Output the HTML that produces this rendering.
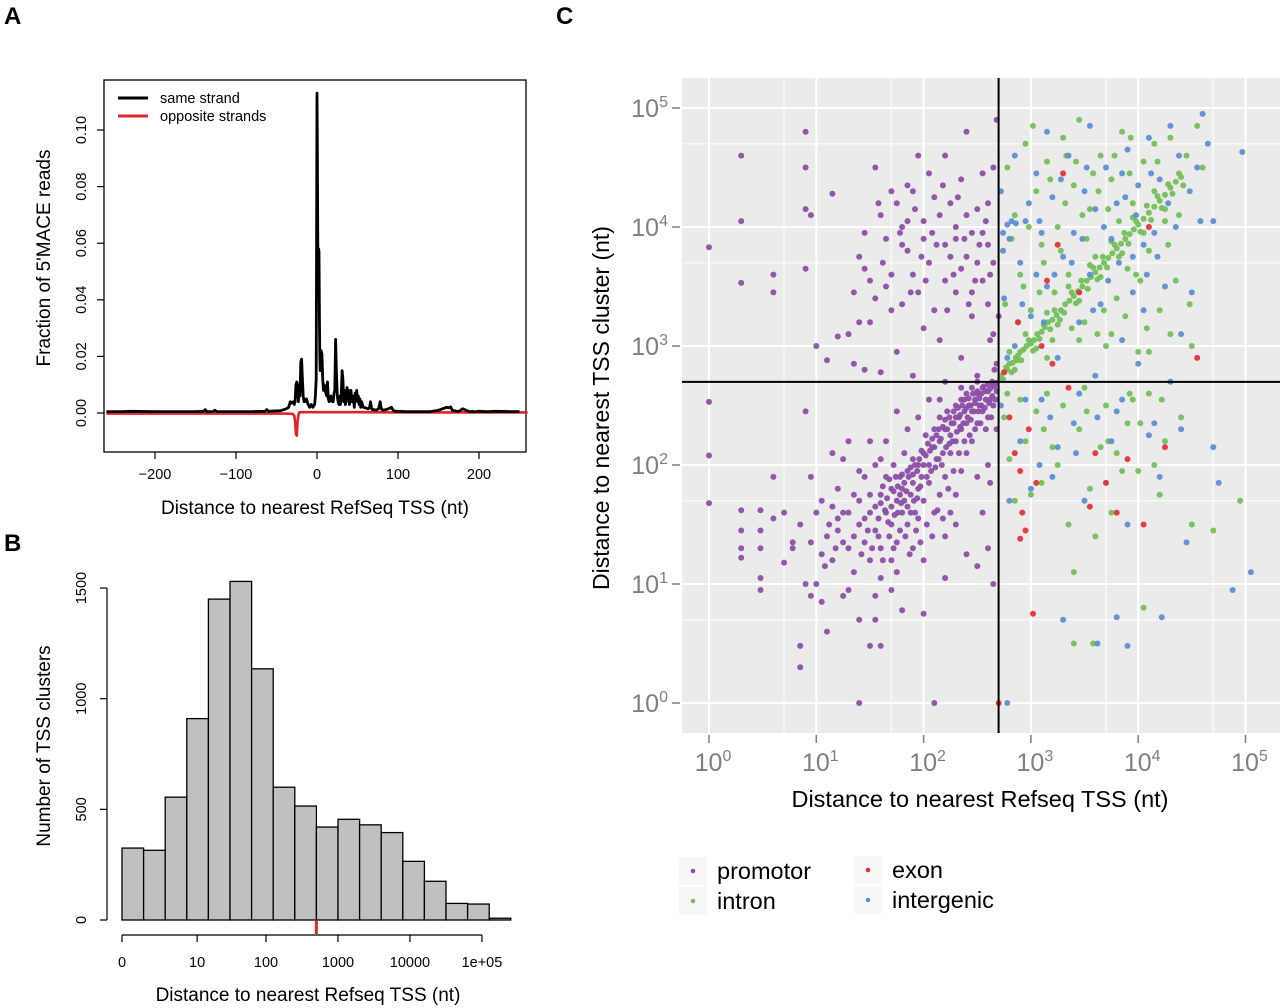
<!DOCTYPE html>
<html><head><meta charset="utf-8"><style>
html,body{margin:0;padding:0;background:#fff;}
svg{display:block;font-family:"Liberation Sans",Arial,sans-serif;}
</style></head><body>
<svg id="fig" width="1280" height="1008" viewBox="0 0 1280 1008">
<text x="4" y="24" font-size="24" font-weight="bold">A</text>
<text x="4" y="551" font-size="24" font-weight="bold">B</text>
<text x="556" y="24" font-size="24" font-weight="bold">C</text>
<g id="pa"></g>
<g id="pb"></g>
<g id="pc"></g>
</svg>
<script>
// ---------- Panel A data ----------
const aTicksX = [-200,-100,0,100,200];
const aTicksY = [0,0.02,0.04,0.06,0.08,0.10];
const aTickLabelsY = ["0.00","0.02","0.04","0.06","0.08","0.10"];
const sameX = [-260,-240,-230,-200,-180,-150,-140,-138,-136,-128,-126,-124,-100,-80,-64,-62,-60,-45,-38,-35,-33,-31,-29,-28,-27,-26,-25,-24,-23,-22,-21,-20,-19,-18,-17,-16,-15,-13,-11,-9,-7,-5,-3,-2,-1,0,0.5,1,1.5,2,2.5,3,3.5,4,5,6,7,8,9,10,11,12,13,14,15,16,17,18,19,20,21,22,23,24,25,26,27,28,29,30,31,32,33,34,35,36,37,38,39,40,41,42,43,44,45,46,47,48,49,50,51,52,53,54,55,57,60,63,65,66,67,68,70,73,76,78,79,80,82,85,88,92,94,95,97,100,110,120,140,150,160,163,165,167,170,172,175,180,188,190,192,194,200,210,212,220,240,250,260];
const sameY = [0.0005,0.0005,0.0006,0.0005,0.0005,0.0005,0.0006,0.0012,0.0005,0.0005,0.001,0.0005,0.0005,0.0005,0.0006,0.0012,0.0006,0.0008,0.0015,0.002,0.004,0.0035,0.004,0.003,0.004,0.01,0.011,0.008,0.004,0.01,0.006,0.018,0.019,0.012,0.006,0.004,0.004,0.005,0.003,0.002,0.003,0.002,0.003,0.006,0.012,0.113,0.09,0.06,0.04,0.058,0.057,0.035,0.02,0.015,0.022,0.021,0.012,0.008,0.01,0.008,0.007,0.006,0.011,0.005,0.004,0.0045,0.006,0.005,0.004,0.004,0.007,0.008,0.026,0.015,0.006,0.004,0.003,0.006,0.003,0.007,0.015,0.012,0.004,0.008,0.003,0.004,0.009,0.005,0.008,0.003,0.006,0.008,0.004,0.006,0.005,0.002,0.007,0.006,0.008,0.004,0.006,0.003,0.005,0.002,0.004,0.002,0.0018,0.0015,0.002,0.004,0.002,0.0012,0.0012,0.001,0.0015,0.004,0.002,0.0012,0.001,0.0012,0.0015,0.002,0.001,0.0008,0.0006,0.0006,0.0005,0.0005,0.0005,0.001,0.002,0.0018,0.0022,0.001,0.0008,0.0006,0.0006,0.0015,0.0005,0.0005,0.0006,0.0004,0.0006,0.0005,0.0005,0.0006,0.0005,0.0005];
const oppX = [-260,-150,-80,-40,-30,-28,-27,-26,-25,-24,-23,-22,-20,-10,0,20,50,100,150,200,260];
const oppY = [-0.0002,-0.0002,-0.0002,-0.0002,-0.0003,-0.001,-0.003,-0.0075,-0.008,-0.003,-0.0008,0.0002,0.0003,0.0003,0.0003,0.0003,0.0003,0.0002,0.0002,0.0002,0.0002];

// ---------- Panel B data ----------
const binCounts = [325,315,555,910,1450,1530,1135,600,515,420,455,430,395,265,175,75,72,8];
const bTicksY = [0,500,1000,1500];
const bTickLabelsX = ["0","10","100","1000","10000","1e+05"];
const bTickPosX = [0,1.2,2.3,3.45,4.6,5.75];
const cutoffValue = 500;

// ---------- Panel C data (log10 values) ----------
const cTicks = [0,1,2,3,4,5];
const cutoffLog = Math.log10(500);
const promotorPts = [
[0,3.83],[0.3,4.6],[0.3,4.05],[0.3,3.53],[0.6,3.6],[0.6,3.45],[0.9,4.8],[0.9,4.5],[0.9,4.15],[0.9,3.65],[0.95,4.1],[1.15,4.28],[1.2,3.08],[1.3,3.1],[1.35,3.45],[1.35,2.85],[1.4,3.75],[1.45,3.65],[1.45,3.95],[1.5,3.55],[1.55,4.5],[1.5,3.2],[1.55,3.4],[1.6,4.1],[1.65,3.9],[1.65,3.5],[1.7,4.3],[1.7,3.3],[1.75,4.2],[1.75,2.95],[1.8,4.0],[1.8,3.85],[1.8,3.35],[1.85,4.35],[1.85,3.8],[1.85,4.05],[1.9,4.3],[1.9,3.6],[1.95,4.6],[1.95,3.45],[2.0,3.9],[2.0,3.15],[2.05,4.45],[2.05,3.7],[2.1,4.25],[2.1,3.3],[2.15,4.1],[2.15,3.05],[2.2,4.6],[2.2,3.85],[2.2,3.55],[2.25,4.2],[2.25,3.75],[2.3,3.9],[2.3,3.45],[2.35,4.4],[2.35,3.65],[2.35,2.9],[2.4,4.8],[2.4,4.1],[2.4,3.75],[2.45,3.95],[2.45,3.25],[2.5,4.15],[2.5,3.7],[2.5,2.75],[2.55,4.45],[2.55,3.55],[2.6,3.85],[2.6,3.35],[2.6,4.2],[2.65,4.5],[2.65,3.1],[2.65,3.7],[2.68,4.9],[2.68,2.85],[1.1,2.88],[1.45,2.8],[1.6,2.78],[1.9,2.75],[2.2,2.7],[1.0,3.0],[1.7,3.6],[2.0,4.05],[1.4,3.2],[2.3,4.0],[2.45,3.45],[2.55,3.95],[2.62,3.05],[2.66,2.8],
[1.58,4.2],[1.62,3.7],[1.78,3.95],[1.92,4.15],[2.02,3.55],[2.12,3.85],[2.18,4.35],[2.28,3.6],[2.38,3.9],[2.48,3.55],[2.58,4.05],[2.42,3.35],[2.22,3.3],[1.98,3.75],[1.88,3.45],[2.08,3.95],[2.32,4.25],[2.52,3.85],[2.62,3.6],[2.7,3.25],
[0,2.53],[0,2.08],[0,1.68],[0.3,1.62],[0.3,1.45],[0.3,1.3],[0.3,1.22],[0.48,1.62],[0.48,1.45],[0.48,1.3],[0.48,1.05],[0.48,0.95],[0.6,1.55],[0.6,1.9],[0.7,1.6],[0.7,1.18],[0.78,1.3],[0.78,1.35],[0.85,1.5],[0.85,0.48],[0.85,0.3],[0.9,2.45],[0.9,1.0],[0.95,1.9],[0.95,0.9],[1.0,1.6],[1.0,1.0],[1.05,1.7],[1.05,0.85],[1.1,1.4],[1.1,0.6],[1.15,1.2],[1.15,2.1],[1.2,1.8],[1.2,1.45],[1.25,1.6],[1.25,0.9],[1.3,1.3],[1.3,2.2],[1.35,1.75],[1.35,1.1],[1.4,1.5],[1.4,0.7],[1.45,1.9],[1.45,1.35],[1.5,1.6],[1.5,1.2],[1.5,0.48],[1.55,2.0],[1.55,1.45],[1.55,0.9],[1.6,1.75],[1.6,1.3],[1.6,1.05],[1.65,1.9],[1.65,1.6],[1.65,2.2],[1.7,1.8],[1.7,1.5],[1.7,1.2],[1.72,2.0],[1.75,1.7],[1.75,1.35],[1.78,1.9],[1.8,1.8],[1.8,1.6],[1.8,0.78],[1.82,2.1],[1.85,1.95],[1.85,1.5],[1.88,1.75],[1.9,2.05],[1.9,1.85],[1.9,1.3],[1.92,1.6],[1.95,2.0],[1.95,1.8],[1.95,2.4],[1.98,1.9],[2.0,2.1],[2.0,1.7],[2.0,1.2],[2.02,2.25],[2.05,2.0],[2.05,1.85],[2.08,2.15],[2.1,2.3],[2.1,1.6],[2.12,2.05],[2.15,2.2],[2.15,2.4],[2.18,2.1],[2.2,2.3],[2.2,1.9],[2.2,1.4],[2.22,2.45],[2.25,2.25],[2.25,2.1],[2.28,2.35],[2.3,2.5],[2.3,2.2],[2.3,1.75],[2.33,2.4],[2.35,2.3],[2.35,2.55],[2.38,2.45],[2.4,2.35],[2.4,2.6],[2.42,2.5],[2.45,2.45],[2.45,2.2],[2.48,2.55],[2.5,2.6],[2.5,2.35],[2.52,2.5],[2.55,2.65],[2.55,2.45],[2.58,2.55],[2.6,2.62],[2.6,2.4],[2.62,2.55],[2.65,2.68],[2.65,2.5],[2.68,2.62],[2.68,2.3],[2.6,2.0],[2.5,1.9],[2.4,2.1],[2.3,1.5],[2.6,1.3],[2.5,1.15],[2.2,1.05],[2.4,1.25],[2.65,1.0],[2.0,0.75],[1.6,0.48],[1.4,0.0],[2.1,0.0],[1.3,0.95],[1.75,1.1],[1.95,1.55],[2.15,1.75],[2.35,1.95],[1.85,2.3],[1.6,2.05],[1.4,1.95],[1.25,2.05],[1.15,1.65],[1.05,1.25],[0.95,1.35],[1.75,2.45],[2.05,2.55],[1.5,2.2],[2.45,2.65],[2.25,1.6],[1.7,0.95],[1.55,0.7],[2.55,1.6],[2.62,1.85],[2.5,2.7],[2.35,2.65],[2.15,2.55],
[1.62,1.82],[1.66,1.72],[1.68,1.88],[1.72,1.78],[1.74,1.9],[1.76,1.82],[1.78,1.75],[1.8,1.92],[1.82,1.85],[1.84,1.78],[1.86,1.9],[1.88,1.98],[1.9,1.92],[1.92,2.0],[1.94,1.95],[1.96,2.05],[1.98,2.12],[2.0,2.0],[2.02,2.08],[2.04,2.18],[2.06,2.12],[2.08,2.22],[2.1,2.15],[2.12,2.25],[2.14,2.3],[2.16,2.22],[2.18,2.32],[2.2,2.38],[2.22,2.3],[2.24,2.4],[2.26,2.35],[2.28,2.45],[2.3,2.4],[2.32,2.48],[2.34,2.42],[2.36,2.5],[2.38,2.55],[2.4,2.48],[2.42,2.56],[2.44,2.5],[2.46,2.6],[2.48,2.52],[2.5,2.62],[2.52,2.56],[2.54,2.6],[2.56,2.66],[2.58,2.62],[2.6,2.68],[2.62,2.64],[2.64,2.7],[2.66,2.66],[2.68,2.69],
[1.55,1.65],[1.58,1.55],[1.6,1.68],[1.64,1.62],[1.67,1.52],[1.7,1.65],[1.73,1.58],[1.76,1.6],[1.79,1.68],[1.82,1.7],[1.85,1.65],[1.88,1.6],[1.91,1.7],[1.94,1.72],[1.97,1.82],[2.03,1.9],[2.07,1.95],[2.11,1.98],[2.14,2.05],[2.17,2.0],[2.21,2.15],[2.24,2.18],[2.27,2.2],[2.31,2.28],[2.34,2.32],[2.37,2.35],[2.41,2.4],[2.44,2.38],[2.47,2.45],[2.51,2.45],[2.54,2.5],[2.57,2.48],[2.61,2.52],[2.64,2.58],[2.67,2.55],
[1.5,1.75],[1.45,1.55],[1.4,1.7],[1.35,1.4],[1.3,1.6],[1.25,1.35],[1.2,1.55],[1.18,1.3],[1.12,1.5],[1.08,1.15],[1.42,1.25],[1.48,1.45],[1.52,1.3],[1.58,1.4],[1.62,1.2],[1.68,1.4],[1.72,1.3],[1.78,1.45],[1.83,1.4],[1.87,1.25],[1.93,1.45],[1.97,1.35],[2.03,1.5],[2.08,1.4],[2.13,1.62],[2.18,1.55],[2.23,1.8],[2.28,1.95],[2.33,2.1],[2.38,2.2],[2.43,2.25],[2.48,2.3],[2.53,2.35],[2.58,2.3],[2.63,2.4]
];
const intronPts = [
[2.72,2.75],[2.75,2.78],[2.78,2.8],[2.8,2.85],[2.83,2.86],[2.86,2.9],[2.88,2.92],[2.9,2.95],[2.93,2.97],[2.96,3.0],[3.0,3.02],[3.03,3.05],[3.06,3.1],[3.1,3.12],[3.13,3.16],[3.16,3.2],[3.2,3.22],[3.24,3.26],[3.28,3.3],[3.32,3.35],[3.36,3.38],[3.4,3.42],[3.44,3.46],[3.48,3.5],[3.52,3.55],[3.56,3.58],[3.6,3.62],[3.64,3.66],[3.68,3.7],[3.72,3.74],[3.76,3.78],[3.8,3.82],[3.84,3.86],[3.88,3.9],[3.92,3.94],[3.96,3.98],[4.0,4.02],[4.05,4.07],[4.1,4.12],[4.15,4.17],[4.2,4.22],[4.25,4.27],[4.3,4.33],[4.35,4.38],[4.4,4.42],[2.8,2.95],[2.85,2.8],[2.95,3.1],[3.05,2.98],[3.15,3.28],[3.25,3.18],[3.35,3.5],[3.45,3.38],[3.55,3.68],[3.65,3.58],[3.75,3.88],[3.85,3.78],[3.95,4.08],[4.05,3.95],[4.15,4.3],[4.25,4.15],
[2.74,2.72],[2.77,2.82],[2.82,2.78],[2.87,2.88],[2.91,2.88],[2.98,3.05],[3.02,2.96],[3.08,3.06],[3.12,3.18],[3.18,3.14],[3.22,3.3],[3.27,3.22],[3.31,3.28],[3.38,3.45],[3.42,3.36],[3.47,3.55],[3.53,3.48],[3.58,3.66],[3.62,3.56],[3.67,3.75],[3.71,3.66],[3.78,3.85],[3.82,3.75],[3.87,3.95],[3.91,3.86],[3.98,4.05],[4.02,3.96],[4.08,4.18],[4.12,4.06],[4.18,4.26],[4.22,4.16],[4.28,4.36],[4.32,4.28],[4.38,4.45],[4.42,4.35],
[2.78,4.5],[2.85,4.1],[2.9,3.6],[2.95,4.7],[3.0,3.3],[3.05,4.3],[3.1,3.85],[3.15,4.55],[3.2,3.05],[3.25,4.0],[3.3,4.75],[3.35,3.6],[3.4,4.35],[3.45,4.9],[3.5,3.2],[3.55,4.15],[3.6,3.75],[3.65,4.6],[3.7,3.0],[3.75,4.4],[3.8,3.4],[3.85,4.8],[3.9,3.65],[3.95,4.2],[4.0,2.95],[4.05,4.55],[4.1,3.8],[4.15,4.7],[4.2,3.3],[4.25,4.05],[4.3,4.75],[4.35,3.55],[4.45,4.6],[4.55,4.85],[4.6,4.5],[4.5,3.0],[2.82,3.9],[3.02,4.85],[3.22,3.45],[3.42,4.55],[3.62,3.1],[3.82,4.05],[4.02,3.55],[3.12,3.7],[3.32,4.2],[3.52,3.9],[3.72,4.15],[3.92,4.45],
[2.76,3.35],[2.88,3.2],[2.98,4.0],[3.08,3.45],[3.18,4.4],[3.28,3.8],[3.38,3.15],[3.48,4.1],[3.58,4.45],[3.68,3.3],[3.78,4.6],[3.88,3.25],[3.98,3.6],[4.08,3.15],[4.18,4.55],[4.28,3.85],[4.38,4.1],[4.48,3.35],[3.15,2.9],[3.45,3.05],[3.75,3.1],[4.1,2.95],[4.3,3.1],[2.93,3.5],[3.33,4.6],[3.63,4.3],[3.93,4.75],
[2.75,2.4],[2.8,2.05],[2.85,1.7],[2.9,2.55],[2.95,2.2],[3.05,2.45],[3.1,1.85],[3.15,2.6],[3.2,2.15],[3.3,2.5],[3.35,1.5],[3.4,1.1],[3.4,0.5],[3.45,2.3],[3.5,2.65],[3.55,1.8],[3.6,1.4],[3.7,2.5],[3.75,1.6],[3.8,2.1],[3.9,2.35],[3.95,2.55],[4.0,1.95],[4.05,0.8],[4.1,2.6],[4.2,1.75],[4.25,2.2],[4.4,2.4],[4.5,1.5],[4.7,1.45],[4.95,1.7],[3.58,0.5],[3.0,1.75],[3.25,2.0],[3.65,2.15],[3.85,1.95],[4.15,2.0],[2.78,2.6],[3.12,2.3],[3.52,2.45],[3.72,2.2],[3.92,2.6],[4.02,2.35],[4.22,2.55]
];
const exonPts = [
[2.75,2.78],[2.8,2.4],[2.85,2.1],[2.9,1.95],[2.92,1.6],[2.95,1.45],[2.9,1.38],[2.98,2.3],[3.02,0.75],[3.05,1.85],[3.1,3.0],[3.15,3.55],[3.2,2.85],[3.25,3.85],[3.3,4.45],[3.35,2.65],[3.45,3.45],[3.55,1.65],[3.6,2.1],[3.7,1.85],[3.8,1.6],[3.9,2.05],[4.05,1.5],[4.1,4.0],[4.25,2.15],[4.55,2.9],[2.7,0.0],[2.88,3.2]
];
const intergenicPts = [
[2.72,2.5],[2.72,4.3],[2.75,3.4],[2.8,3.9],[2.8,1.7],[2.85,4.6],[2.85,3.0],[2.9,2.2],[2.9,3.7],[2.95,4.05],[3.0,1.8],[3.0,3.25],[3.05,4.45],[3.1,2.55],[3.1,3.95],[3.15,3.5],[3.2,4.25],[3.2,1.9],[3.25,2.9],[3.3,3.75],[3.3,0.7],[3.35,4.6],[3.4,2.35],[3.4,3.95],[3.45,3.2],[3.5,4.3],[3.5,1.7],[3.55,3.6],[3.6,4.15],[3.6,2.75],[3.65,3.35],[3.7,4.5],[3.7,1.85],[3.75,3.9],[3.8,2.45],[3.8,4.2],[3.85,3.05],[3.9,4.65],[3.9,1.5],[3.95,3.75],[4.0,4.35],[4.0,2.85],[4.05,3.3],[4.1,4.75],[4.1,2.25],[4.15,3.95],[4.2,4.4],[4.2,1.9],[4.25,3.5],[4.3,4.85],[4.35,4.0],[4.4,3.1],[4.45,1.35],[4.5,3.45],[4.55,4.5],[4.6,4.95],[4.65,4.7],[4.7,4.05],[4.7,2.15],[4.75,1.85],[4.88,0.95],[4.97,4.63],[5.05,1.1],[2.78,2.9],[2.95,2.55],[3.05,3.6],[3.15,4.8],[3.25,2.15],[3.45,2.6],[3.55,4.85],[3.75,2.2],[3.85,4.45],[3.95,3.45],[4.05,3.85],[4.3,2.7],[4.4,2.3],[3.62,0.5],[3.8,0.72],[3.9,0.48],[4.22,0.72],[2.78,0.0],
[2.74,3.8],[2.74,3.95],[2.78,4.02],[2.82,4.05],[2.86,4.03],[2.92,3.35],[2.98,4.2],[3.08,4.05],[3.12,3.2],[3.22,3.6],[3.28,4.4],[3.38,3.7],[3.48,3.9],[3.52,4.5],[3.58,3.3],[3.68,4.0],[3.72,3.55],[3.82,3.7],[3.88,4.25],[3.98,4.1],[4.08,3.6],[4.12,4.45],[4.18,3.75],[4.28,4.2],[4.38,4.6],[4.48,4.3],[4.58,4.05],[3.18,2.4],[3.42,2.1],[3.62,2.4],[3.85,2.55],[4.15,2.35],[3.08,2.0]
];

const NS = "http://www.w3.org/2000/svg";
function mk(parent, tag, attrs, text) {
  const el = document.createElementNS(NS, tag);
  for (const k in attrs) el.setAttribute(k, attrs[k]);
  if (text !== undefined) el.textContent = text;
  parent.appendChild(el);
  return el;
}

// ===== Panel A =====
(function(){
  const g = document.getElementById('pa');
  const xA = v => 317 + v * 0.81;
  const yA = v => 413 - v * 2830;
  let el = mk(g,'rect',{x:104,y:80,width:422,height:372,fill:'none',stroke:'#000','stroke-width':1.3});
  
  
  aTicksX.forEach(t=>{
    const x = xA(t);
    let tk = mk(g,'line',{x1:x,x2:x,y1:452,y2:459,stroke:'#000','stroke-width':1.2});
    
    
    let lb = mk(g,'text',{x:x,y:479,'font-size':14.5,'text-anchor':'middle'}, t===0?'0':String(t).replace('-','\u2212'));
    
    
  });
  aTicksY.forEach((t,i)=>{
    const y = yA(t);
    let tk = mk(g,'line',{x1:97,x2:104,y1:y,y2:y,stroke:'#000','stroke-width':1.2});
    
    
    let lb = mk(g,'text',{x:0,y:0,'font-size':14.5,'text-anchor':'middle',transform:`translate(86,${y}) rotate(-90)`}, aTickLabelsY[i]);
    
    
  });
  let d = oppX.map((x,i)=>(i?'L':'M')+xA(x).toFixed(1)+','+yA(oppY[i]).toFixed(1)).join('');
  el = mk(g,'path',{d:d,fill:'none',stroke:'#e0262b','stroke-width':2.6,'stroke-linejoin':'round'});
  
  
  d = sameX.map((x,i)=>(i?'L':'M')+xA(x).toFixed(1)+','+yA(sameY[i]).toFixed(1)).join('');
  el = mk(g,'path',{d:d,fill:'none',stroke:'#000','stroke-width':2.8,'stroke-linejoin':'round'});
  
  
  el = mk(g,'line',{x1:118,x2:148,y1:98,y2:98,stroke:'#000','stroke-width':3});
  
  
  el = mk(g,'text',{x:160,y:103,'font-size':14.5},'same strand');
  
  
  el = mk(g,'line',{x1:118,x2:148,y1:116,y2:116,stroke:'#e0262b','stroke-width':3});
  
  
  el = mk(g,'text',{x:160,y:121,'font-size':14.5},'opposite strands');
  
  
  el = mk(g,'text',{x:315,y:514,'font-size':19,'text-anchor':'middle'},'Distance to nearest RefSeq TSS (nt)');
  
  
  el = mk(g,'text',{x:0,y:0,'font-size':19,'text-anchor':'middle',transform:'translate(50,258) rotate(-90)'},"Fraction of 5'MACE reads");
  
  
})();

// ===== Panel B =====
(function(){
  const g = document.getElementById('pb');
  const x0 = 122, bw = 21.6;
  const yB = v => 920 - v * 0.2213;
  const xLog = v => 122 + v * 62.6;
  binCounts.forEach((c,i)=>{
    let r = mk(g,'rect',{x:x0+i*bw,y:yB(c),width:bw,height:920-yB(c),fill:'#c0c0c0',stroke:'#000','stroke-width':1.3});
    
    
  });
  let el = mk(g,'line',{x1:107,x2:107,y1:yB(0),y2:yB(1500),stroke:'#000','stroke-width':1.2});
  
  
  bTicksY.forEach(t=>{
    const y = yB(t);
    let tk = mk(g,'line',{x1:100,x2:107,y1:y,y2:y,stroke:'#000','stroke-width':1.2});
    
    
    let lb = mk(g,'text',{x:0,y:0,'font-size':14.5,'text-anchor':'middle',transform:`translate(86,${y}) rotate(-90)`}, String(t));
    
    
  });
  el = mk(g,'line',{x1:xLog(bTickPosX[0]),x2:xLog(bTickPosX[bTickPosX.length-1]),y1:935,y2:935,stroke:'#000','stroke-width':1.2});
  
  
  bTickPosX.forEach((p,i)=>{
    const x = xLog(p);
    let tk = mk(g,'line',{x1:x,x2:x,y1:935,y2:942,stroke:'#000','stroke-width':1.2});
    
    
    let lb = mk(g,'text',{x:x,y:967,'font-size':14.5,'text-anchor':'middle'}, bTickLabelsX[i]);
    
    
  });
  const cx = xLog(Math.log10(cutoffValue+1)*1.15);
  el = mk(g,'line',{x1:cx,x2:cx,y1:921,y2:934,stroke:'#e0262b','stroke-width':3});
  
  
  el = mk(g,'text',{x:308,y:1001,'font-size':19,'text-anchor':'middle'},'Distance to nearest Refseq TSS (nt)');
  
  
  el = mk(g,'text',{x:0,y:0,'font-size':19,'text-anchor':'middle',transform:'translate(50,746) rotate(-90)'},'Number of TSS clusters');
  
  
})();

// ===== Panel C =====
(function(){
  const g = document.getElementById('pc');
  const L=682, R=1280, T=78, B=733;
  const xC = v => 709 + v * 107.3;
  const yC = v => 703 - v * 119.0;
  let el = mk(g,'rect',{x:L,y:T,width:R-L,height:B-T,fill:'#ebebeb'});
  
  
  [-1,0,1,2,3,4,5].forEach(t=>{
    [t, t+Math.log10(5)].forEach((v,j)=>{
      const x = xC(v);
      if (x>L && x<R) {
        let gl = mk(g,'line',{x1:x,x2:x,y1:T,y2:B,stroke:'#fff','stroke-width':j?1:2});
        
        
      }
      const y = yC(v);
      if (y>T && y<B) {
        let gl = mk(g,'line',{x1:L,x2:R,y1:y,y2:y,stroke:'#fff','stroke-width':j?1:2});
        
        
      }
    });
  });
  function drawPts(pts, color, name){
    pts.forEach(p=>{
      let c = mk(g,'circle',{cx:xC(p[0]).toFixed(1),cy:yC(p[1]).toFixed(1),r:3.0,fill:color,'fill-opacity':0.95});
      
      
    });
  }
  drawPts(promotorPts,'#8c4fa6','promotor-point');
  drawPts(intronPts,'#74bf5a','intron-point');
  drawPts(intergenicPts,'#5d8fd0','intergenic-point');
  drawPts(exonPts,'#e0343c','exon-point');
  el = mk(g,'line',{x1:xC(cutoffLog),x2:xC(cutoffLog),y1:T,y2:B,stroke:'#000','stroke-width':2});
  
  
  el = mk(g,'line',{x1:L,x2:R,y1:yC(cutoffLog),y2:yC(cutoffLog),stroke:'#000','stroke-width':2});
  
  
  cTicks.forEach(t=>{
    const y = yC(t), x = xC(t);
    let tk = mk(g,'line',{x1:672,x2:680,y1:y,y2:y,stroke:'#7f7f7f','stroke-width':1.5});
    
    
    let lb = mk(g,'text',{x:668,y:y+9,'font-size':25,fill:'#7f7f7f','text-anchor':'end'});
    
    
    mk(lb,'tspan',{},'10');
    mk(lb,'tspan',{dy:-10,'font-size':16},String(t));
    tk = mk(g,'line',{x1:x,x2:x,y1:735,y2:743,stroke:'#7f7f7f','stroke-width':1.5});
    
    
    lb = mk(g,'text',{x:x+4,y:771,'font-size':25,fill:'#7f7f7f','text-anchor':'middle'});
    
    
    mk(lb,'tspan',{},'10');
    mk(lb,'tspan',{dy:-10,'font-size':16},String(t));
  });
  el = mk(g,'text',{x:980,y:807,'font-size':23.5,'text-anchor':'middle'},'Distance to nearest Refseq TSS (nt)');
  
  
  el = mk(g,'text',{x:0,y:0,'font-size':23,'text-anchor':'middle',transform:'translate(609,408) rotate(-90)'},'Distance to nearest TSS cluster (nt)');
  
  
  const leg = [['promotor','#8c4fa6',693,871],['intron','#74bf5a',693,901],['exon','#e0343c',868,870],['intergenic','#5d8fd0',868,900]];
  leg.forEach(l=>{
    let bg = mk(g,'rect',{x:l[2]-14,y:l[3]-14,width:28,height:28,fill:'#f7f7f7'});
    
    
    let c = mk(g,'circle',{cx:l[2],cy:l[3],r:2.3,fill:l[1]});
    
    
    let t = mk(g,'text',{x:l[2]+24,y:l[3]+8,'font-size':23.5},l[0]);
    
    
  });
})();
</script>
</body></html>
